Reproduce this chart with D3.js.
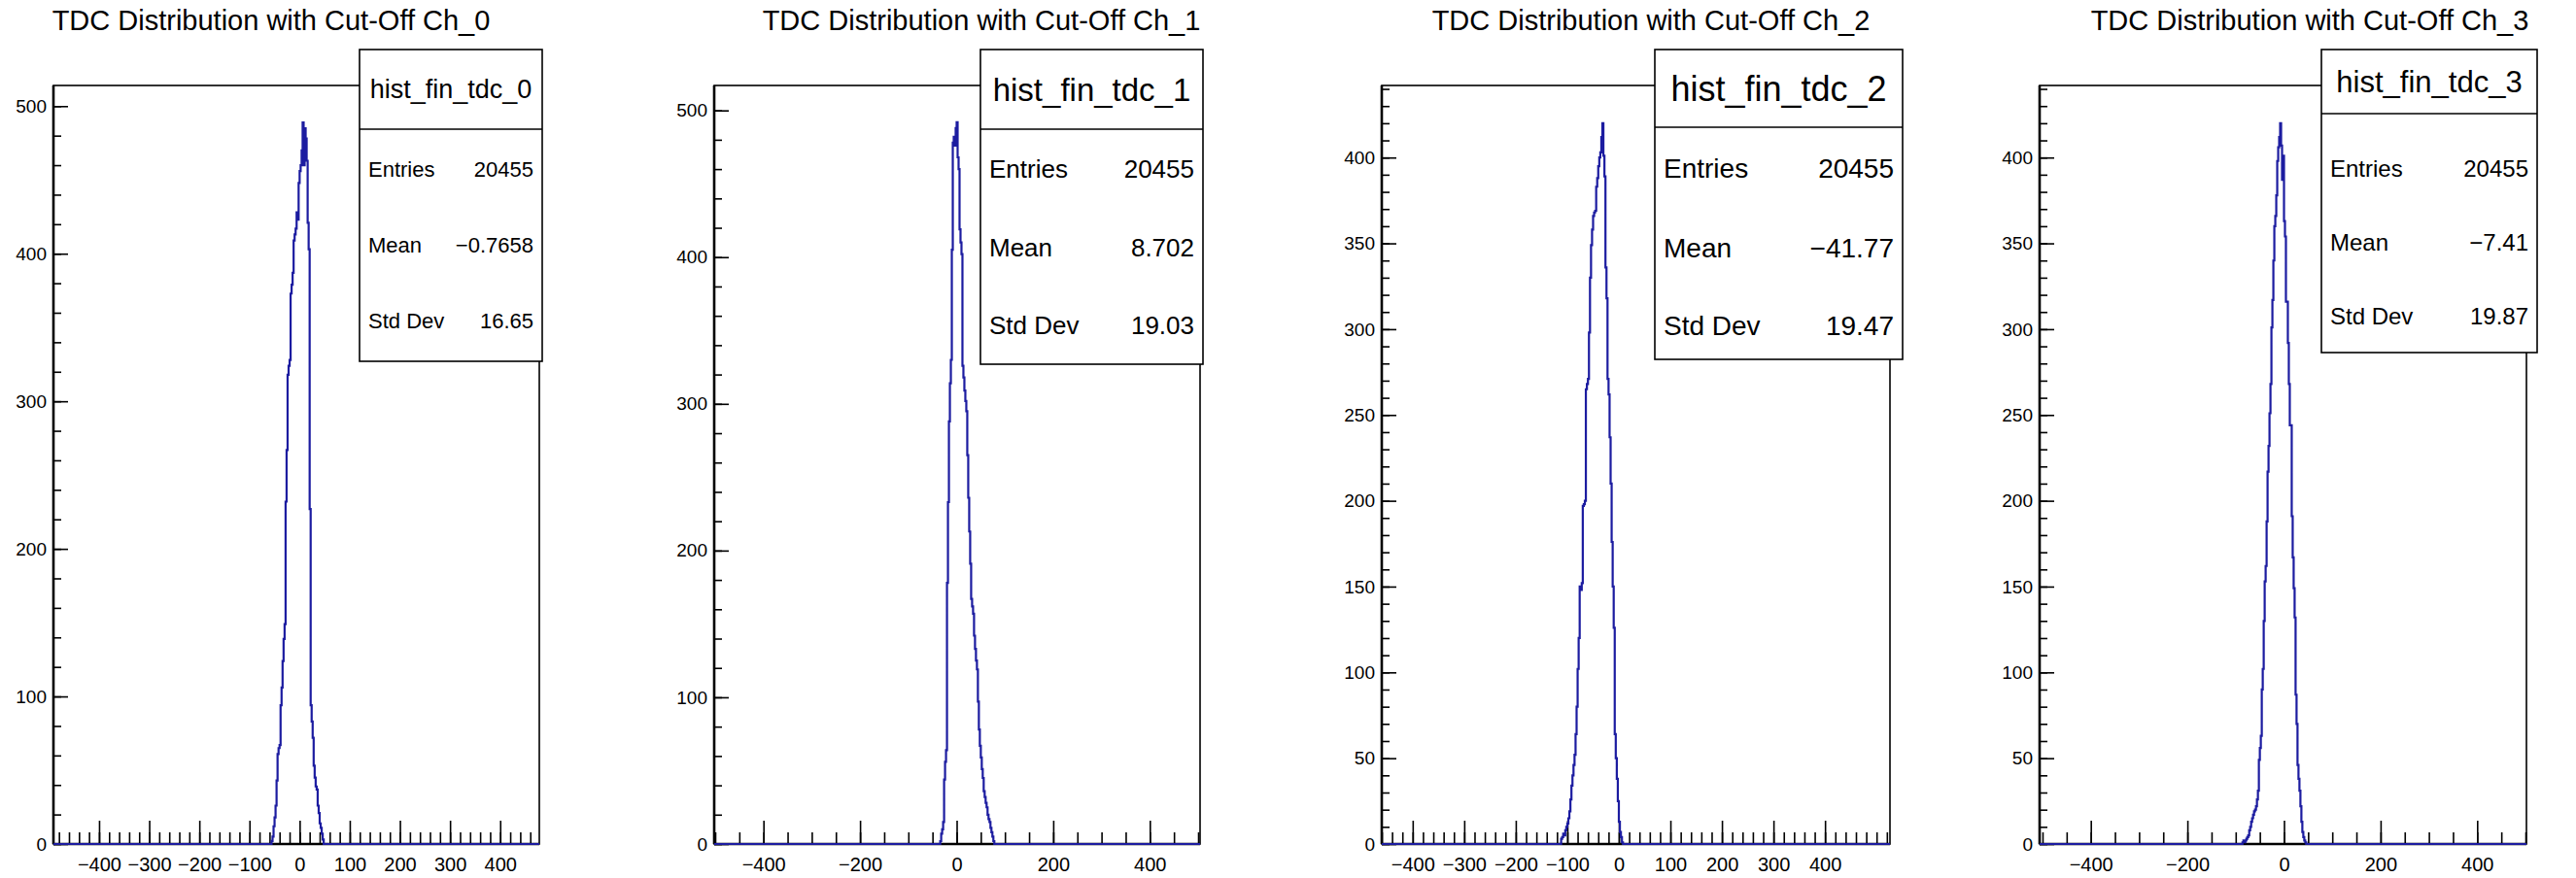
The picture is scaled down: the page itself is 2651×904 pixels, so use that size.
<!DOCTYPE html>
<html><head><meta charset="utf-8">
<script src="https://cdn.jsdelivr.net/npm/d3@7"></script>
<style>
html,body{margin:0;padding:0;background:#fff;}
svg{display:block;font-family:"Liberation Sans",Arial,Helvetica,sans-serif;}
</style></head><body>
<svg id="c" width="2651" height="904"></svg>
<script>
// ---------- data ----------
const titles = ["TDC Distribution with Cut-Off Ch_0","TDC Distribution with Cut-Off Ch_1","TDC Distribution with Cut-Off Ch_2","TDC Distribution with Cut-Off Ch_3"];
const histNames = ["hist_fin_tdc_0","hist_fin_tdc_1","hist_fin_tdc_2","hist_fin_tdc_3"];
const statLabels = ["Entries","Mean","Std Dev"];
const entries = ["20455","20455","20455","20455"];
const means = ["\u22120.7658","8.702","\u221241.77","\u22127.41"];
const stdDevs = ["16.65","19.03","19.47","19.87"];

const binWidth = 2;
const binStarts = [-56, -34, -112, -86];
const counts0 = [2,5,12,18,26,43,61,65,67,94,106,124,139,149,232,267,318,324,328,373,379,387,409,413,417,428,423,448,456,460,470,489,460,485,478,463,421,403,227,94,83,72,53,45,39,37,26,21,14,11,7,3];
const counts1 = [2,7,10,15,44,56,64,178,233,288,314,330,405,478,482,476,488,492,468,460,419,410,402,326,318,309,302,295,265,236,213,191,167,162,157,142,133,125,119,97,78,67,59,51,45,36,32,28,25,20,17,15,11,8,5,2];
const counts2 = [3,4,6,5,8,10,12,15,19,26,34,40,46,52,64,80,102,120,150,148,152,197,198,200,265,268,271,298,330,349,358,366,368,369,383,388,395,400,403,412,420,401,389,336,318,271,262,237,210,176,150,126,64,50,38,25,13,7,4,1];
const counts3 = [1,2,1,2,3,4,5,8,10,13,15,17,19,20,22,26,31,49,56,63,90,102,130,153,162,188,217,232,251,268,301,317,340,360,366,378,398,406,412,420,407,387,401,363,354,316,316,292,268,244,244,191,167,149,132,87,70,46,38,31,22,13,7,4,2,1];
const allCounts = [counts0, counts1, counts2, counts3];

const xDomains = [[-491, 478], [-502, 504], [-460, 526], [-506, 502]];
const yMaxes = [514, 517, 442, 442];
const xMajorTicks = [
  [-400,-300,-200,-100,0,100,200,300,400],
  [-400,-200,0,200,400],
  [-400,-300,-200,-100,0,100,200,300,400],
  [-400,-200,0,200,400]];
const xMinorSteps = [20, 50, 20, 50];
const yMajorTicks = [
  [0,100,200,300,400,500],
  [0,100,200,300,400,500],
  [0,50,100,150,200,250,300,350,400],
  [0,50,100,150,200,250,300,350,400]];
const yMinorSteps = [20, 20, 10, 10];

// ---------- layout ----------
const frameTop = 88, frameBottom = 869;
const frames = [{l:55,r:555},{l:735,r:1235},{l:1422,r:1945},{l:2099,r:2600}];
const titleX = [279, 1010, 1699, 2377];
const boxes = [
  {x1:370, x2:558, top:51, div:133, bot:372, hf:27, rf:22, rows:[174,252,330]},
  {x1:1009,x2:1238,top:51, div:133, bot:375, hf:33, rf:26, rows:[174,255,335]},
  {x1:1703,x2:1958,top:51, div:131, bot:370, hf:36, rf:28, rows:[173,255,335]},
  {x1:2389,x2:2611,top:51, div:117, bot:363, hf:31, rf:24, rows:[174,250,326]}];
const histColor = "#1c1ca0";

const fmt = d => d < 0 ? "\u2212" + Math.abs(d) : String(d);
const svg = d3.select("#c");
svg.append("rect").attr("width",2651).attr("height",904).attr("fill","#fff");

for (let p = 0; p < 4; p++) {
  const f = frames[p];
  const x = d3.scaleLinear().domain(xDomains[p]).range([f.l, f.r]);
  const y = d3.scaleLinear().domain([0, yMaxes[p]]).range([frameBottom, frameTop]);
  const g = svg.append("g");

  // title
  g.append("text").attr("x", titleX[p]).attr("y", 31).attr("text-anchor","middle")
    .attr("font-size", 29).attr("fill","#000").text(titles[p]);

  // frame
  g.append("rect").attr("x", f.l).attr("y", frameTop).attr("width", f.r - f.l)
    .attr("height", frameBottom - frameTop).attr("fill","none").attr("stroke","#000").attr("stroke-width",1.6);

  // x ticks
  const [x0, x1] = xDomains[p];
  const xm = d3.range(Math.ceil(x0 / xMinorSteps[p]) * xMinorSteps[p], x1, xMinorSteps[p]);
  g.append("g").attr("transform",`translate(0,${frameBottom})`)
    .call(d3.axisBottom(x).tickValues(xm).tickSize(-12).tickFormat(""))
    .call(s => s.select(".domain").remove())
    .call(s => s.selectAll("line").attr("stroke","#000").attr("stroke-width",1.6));
  g.append("g").attr("transform",`translate(0,${frameBottom})`)
    .call(d3.axisBottom(x).tickValues(xMajorTicks[p]).tickSize(-24).tickPadding(14).tickFormat(fmt))
    .call(s => s.select(".domain").remove())
    .call(s => s.selectAll("line").attr("stroke","#000").attr("stroke-width",1.6))
    .call(s => s.selectAll("text").attr("font-size",20).attr("fill","#000")
        .attr("font-family",'"Liberation Sans",Arial,sans-serif'));

  // y ticks
  const ym = d3.range(0, yMaxes[p], yMinorSteps[p]);
  g.append("g").attr("transform",`translate(${f.l},0)`)
    .call(d3.axisLeft(y).tickValues(ym).tickSize(-8).tickFormat(""))
    .call(s => s.select(".domain").remove())
    .call(s => s.selectAll("line").attr("stroke","#000").attr("stroke-width",1.6));
  g.append("g").attr("transform",`translate(${f.l},0)`)
    .call(d3.axisLeft(y).tickValues(yMajorTicks[p]).tickSize(-15).tickPadding(7).tickFormat(fmt))
    .call(s => s.select(".domain").remove())
    .call(s => s.selectAll("line").attr("stroke","#000").attr("stroke-width",1.6))
    .call(s => s.selectAll("text").attr("font-size",19).attr("fill","#000")
        .attr("font-family",'"Liberation Sans",Arial,sans-serif'));

  // axis lines (thicker)
  g.append("line").attr("x1",f.l).attr("x2",f.r).attr("y1",frameBottom).attr("y2",frameBottom)
    .attr("stroke","#000").attr("stroke-width",2.6);
  g.append("line").attr("x1",f.l).attr("x2",f.l).attr("y1",frameTop).attr("y2",frameBottom)
    .attr("stroke","#000").attr("stroke-width",2.6);

  // histogram
  const c = allCounts[p], s0 = binStarts[p];
  const pts = [[x0, 0], [s0, 0]];
  c.forEach((v, i) => pts.push([s0 + i * binWidth, v]));
  pts.push([s0 + c.length * binWidth, 0]);
  pts.push([x1, 0]);
  const line = d3.line().x(d => x(d[0])).y(d => y(d[1])).curve(d3.curveStepAfter);
  g.append("path").attr("d", line(pts)).attr("fill","none")
    .attr("stroke", histColor).attr("stroke-width",2.2).attr("stroke-linejoin","miter");

  // stat box
  const b = boxes[p];
  g.append("rect").attr("x",b.x1).attr("y",b.top).attr("width",b.x2-b.x1).attr("height",b.bot-b.top)
    .attr("fill","#fff").attr("stroke","#000").attr("stroke-width",1.6);
  g.append("line").attr("x1",b.x1).attr("x2",b.x2).attr("y1",b.div).attr("y2",b.div)
    .attr("stroke","#000").attr("stroke-width",1.6);
  g.append("text").attr("x",(b.x1+b.x2)/2).attr("y",(b.top+b.div)/2).attr("dy","0.35em")
    .attr("text-anchor","middle").attr("font-size",b.hf).text(histNames[p]);
  const vals = [entries[p], means[p], stdDevs[p]];
  statLabels.forEach((lab, i) => {
    g.append("text").attr("x", b.x1 + 9).attr("y", b.rows[i]).attr("dy","0.35em")
      .attr("font-size", b.rf).text(lab);
    g.append("text").attr("x", b.x2 - 9).attr("y", b.rows[i]).attr("dy","0.35em")
      .attr("text-anchor","end").attr("font-size", b.rf).text(vals[i]);
  });
}
</script>
</body></html>
